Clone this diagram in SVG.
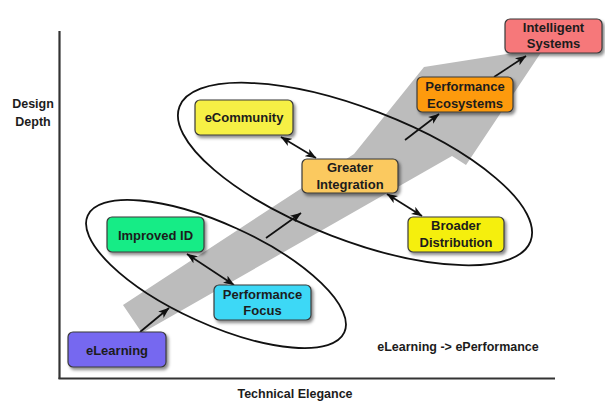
<svg xmlns="http://www.w3.org/2000/svg" width="605" height="408" viewBox="0 0 605 408">
  <defs>
    <filter id="shadow" x="-20%" y="-20%" width="150%" height="160%">
      <feDropShadow dx="2" dy="2.5" stdDeviation="1.6" flood-color="#000" flood-opacity="0.45"/>
    </filter>
    <marker id="head" viewBox="0 0 11 9" refX="10.5" refY="4.5" markerWidth="11" markerHeight="9" markerUnits="userSpaceOnUse" orient="auto-start-reverse">
      <path d="M0,0.3 L11,4.5 L0,8.7 L2.8,4.5 z" fill="#111"/>
    </marker>
    <style>
      .axis { stroke: #333; stroke-width: 2.2; fill: none; }
      .ring { stroke: #111; stroke-width: 1.8; fill: none; }
      .band { fill: #bcbcbc; }
      .conn { stroke: #111; stroke-width: 1.7; fill: none; }
      .box { stroke: #3a3a3a; stroke-width: 1.2; filter: url(#shadow); }
      .lbl { font-family: "Liberation Sans", Arial, sans-serif; font-weight: bold; font-size: 13px; fill: #1c1c1c; text-anchor: middle; }
      .axt { font-family: "Liberation Sans", Arial, sans-serif; font-weight: bold; font-size: 12.5px; fill: #1c1c1c; text-anchor: middle; }
    </style>
  </defs>

  <rect width="605" height="408" fill="#fff"/>

  <!-- axes -->
  <g id="axes">
    <line class="axis" x1="59.5" y1="31" x2="59.5" y2="379"/>
    <line class="axis" x1="58.5" y1="378.5" x2="555" y2="378.5"/>
    <text class="axt" x="33" y="108">Design</text>
    <text class="axt" x="33" y="126">Depth</text>
    <text class="axt" x="295" y="398">Technical Elegance</text>
    <text class="axt" x="458" y="351">eLearning -&gt; ePerformance</text>
  </g>

  <!-- broad grey progression arrow, widening toward its head -->
  <polygon class="band" points="123,305 354,154 424,67 544,48 466,165 452,156 142,333"/>

  <!-- grouping rings -->
  <g id="groups">
    <ellipse class="ring" cx="216" cy="274" rx="141" ry="50" transform="rotate(24.5 216 274)"/>
    <ellipse class="ring" cx="355" cy="174" rx="188" ry="66" transform="rotate(21 355 174)"/>
  </g>

  <!-- connectors -->
  <g id="connectors">
    <line class="conn" x1="140" y1="332" x2="169" y2="308" marker-end="url(#head)"/>
    <line class="conn" x1="187" y1="254" x2="234" y2="285" marker-start="url(#head)" marker-end="url(#head)"/>
    <line class="conn" x1="266" y1="238" x2="301" y2="213" marker-end="url(#head)"/>
    <line class="conn" x1="281" y1="137" x2="316" y2="158" marker-start="url(#head)" marker-end="url(#head)"/>
    <line class="conn" x1="387" y1="194" x2="422" y2="216" marker-start="url(#head)" marker-end="url(#head)"/>
    <line class="conn" x1="405" y1="140" x2="439" y2="114" marker-end="url(#head)"/>
    <line class="conn" x1="494" y1="77" x2="526" y2="56" marker-end="url(#head)"/>
  </g>

  <!-- nodes -->
  <g id="elearning">
    <rect class="box" x="68" y="332" width="98" height="35" rx="5" fill="#7668f0"/>
    <text class="lbl" x="117" y="355">eLearning</text>
  </g>
  <g id="improved-id">
    <rect class="box" x="107" y="217" width="97" height="35" rx="5" fill="#18ec86"/>
    <text class="lbl" x="155.5" y="240">Improved ID</text>
  </g>
  <g id="performance-focus">
    <rect class="box" x="214" y="285" width="97" height="35" rx="5" fill="#3cd8f6"/>
    <text class="lbl" x="262.5" y="299">Performance</text>
    <text class="lbl" x="262.5" y="315">Focus</text>
  </g>
  <g id="ecommunity">
    <rect class="box" x="195" y="100" width="98" height="35" rx="5" fill="#f6f044"/>
    <text class="lbl" x="244" y="122">eCommunity</text>
  </g>
  <g id="greater-integration">
    <rect class="box" x="302" y="159" width="96" height="34" rx="5" fill="#fbc95e"/>
    <text class="lbl" x="350" y="172">Greater</text>
    <text class="lbl" x="350" y="189">Integration</text>
  </g>
  <g id="broader-distribution">
    <rect class="box" x="408" y="217" width="96" height="35" rx="5" fill="#f5ef10"/>
    <text class="lbl" x="456" y="230">Broader</text>
    <text class="lbl" x="456" y="247">Distribution</text>
  </g>
  <g id="performance-ecosystems">
    <rect class="box" x="417" y="77" width="96" height="35" rx="5" fill="#fd9a0c"/>
    <text class="lbl" x="465" y="91">Performance</text>
    <text class="lbl" x="465" y="108">Ecosystems</text>
  </g>
  <g id="intelligent-systems">
    <rect class="box" x="505" y="19" width="97" height="34" rx="5" fill="#f6787a"/>
    <text class="lbl" x="553.5" y="32">Intelligent</text>
    <text class="lbl" x="553.5" y="48">Systems</text>
  </g>
</svg>
